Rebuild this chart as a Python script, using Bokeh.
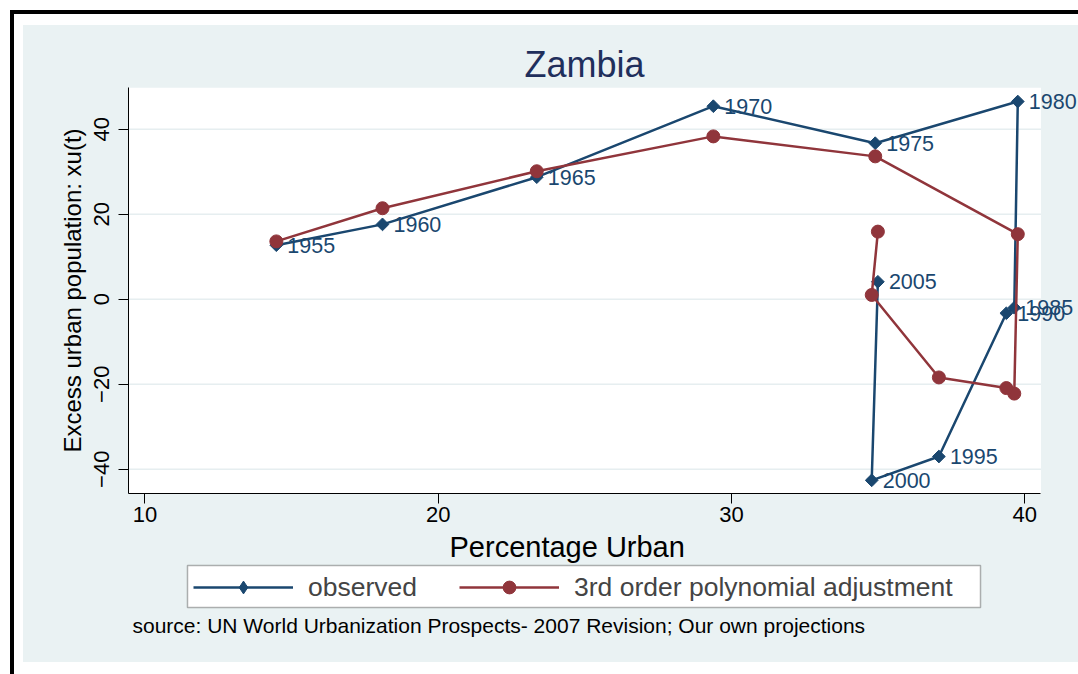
from bokeh.plotting import figure
from bokeh.layouts import column, row
from bokeh.models import (ColumnDataSource, LabelSet, Legend, LegendItem, Label,
                          FixedTicker, Div, BoxAnnotation)
from bokeh.core.properties import value
from bokeh.embed import file_html
from bokeh.resources import INLINE
import math

# ---- data ----
years = ["1955", "1960", "1965", "1970", "1975", "1980", "1985", "1990", "1995", "2000", "2005"]
pct_urban = [14.48, 18.1, 23.36, 29.38, 34.9, 39.76, 39.64, 39.37, 37.07, 34.78, 34.99]
observed = [12.7, 17.6, 28.7, 45.4, 36.7, 46.5, -2.0, -3.3, -37.0, -42.6, 4.1]
fitted = [13.6, 21.4, 30.1, 38.3, 33.6, 15.3, -22.2, -20.9, -18.4, 1.0, 15.9]
x_ticks = [10, 20, 30, 40]
y_ticks = [-40, -20, 0, 20, 40]

title_text = "Zambia"
x_title = "Percentage Urban"
y_title = "Excess urban population: xu(t)"
legend_labels = ["observed", "3rd order polynomial adjustment"]
note_text = "source: UN World Urbanization Prospects- 2007 Revision; Our own projections"

# plot-region extent (data units) and extra room on the right for the year labels
x_lo, x_hi, x_view = 9.44, 40.55, 41.83
y_lo, y_hi = -45.7, 49.8

NAVY = "#1a476f"
MAROON = "#90353b"
BG = "#eaf2f3"
GRID = "#e6eef0"
FONT = "Liberation Sans"

src = ColumnDataSource(dict(x=pct_urban, obs=observed, fit=fitted, year=years))

# ---------------- main plot ----------------
p = figure(width=1055, height=506, x_range=(x_lo, x_view), y_range=(y_lo, y_hi),
           output_backend="svg", toolbar_location=None,
           min_border_left=105, min_border_right=0, min_border_top=62, min_border_bottom=38)
p.border_fill_color = BG
p.background_fill_color = BG
p.outline_line_color = None

p.title.text = title_text
p.title.align = "left"
p.title.offset = 396
p.title.text_font = FONT
p.title.text_font_size = "36px"
p.title.text_font_style = "normal"
p.title.text_color = "#1f2f5c"
p.title.standoff = 6

for ax in (p.xaxis[0], p.yaxis[0]):
    ax.axis_line_color = "black"
    ax.axis_line_width = 1
    ax.major_tick_line_color = "black"
    ax.major_tick_out = 10
    ax.major_tick_in = 0
    ax.minor_tick_line_color = None
    ax.major_label_text_font = FONT
    ax.major_label_text_font_size = "22px"
    ax.major_label_text_color = "black"
    ax.axis_label_text_font = FONT
    ax.axis_label_text_font_style = "normal"
    ax.axis_label_text_color = "black"

p.xaxis[0].ticker = FixedTicker(ticks=x_ticks)
p.yaxis[0].ticker = FixedTicker(ticks=y_ticks)
p.xaxis[0].bounds = (x_lo, x_hi)
p.yaxis[0].axis_label = y_title
p.yaxis[0].axis_label_text_font_size = "24px"
p.xaxis[0].major_label_standoff = 3
p.yaxis[0].major_label_orientation = "vertical"
p.yaxis[0].major_label_standoff = 9
p.yaxis[0].axis_label_standoff = 6

p.xgrid.visible = False
p.ygrid.visible = False

# white plot region and horizontal grid lines
p.quad(left=[x_lo], right=[x_hi], bottom=[y_lo], top=[y_hi],
       fill_color="white", line_color=None)
p.segment(x0=[x_lo] * len(y_ticks), x1=[x_hi] * len(y_ticks), y0=y_ticks, y1=y_ticks,
          line_color=GRID, line_width=1.5)

# observed series
p.line("x", "obs", source=src, line_color=NAVY, line_width=2.5)
p.scatter("x", "obs", source=src, marker="square", size=9, angle=math.pi / 4,
          fill_color=NAVY, line_color=NAVY)
labels = LabelSet(x="x", y="obs", text="year", source=src, x_offset=11,
                  text_baseline="middle", text_align="left",
                  text_font=value(FONT), text_font_size="21.5px", text_color=NAVY)
p.add_layout(labels)

# fitted series
p.line("x", "fit", source=src, line_color=MAROON, line_width=2.5)
p.scatter("x", "fit", source=src, marker="circle", size=13,
          fill_color=MAROON, line_color=MAROON)

# ---------------- x title + legend + note panel ----------------
q = figure(width=1055, height=131, x_range=(0, 1), y_range=(0, 1),
           x_axis_type=None, y_axis_type=None,
           output_backend="svg", toolbar_location=None, min_border=0)
q.border_fill_color = BG
q.background_fill_color = BG
q.outline_line_color = None
q.grid.visible = False

xt = Label(x=321, y=116, x_units="screen", y_units="screen", text=x_title,
           text_font=FONT, text_font_size="29px", text_color="black",
           text_baseline="alphabetic")
q.add_layout(xt)

ql1 = q.line("x", "obs", source=src, line_color=NAVY, line_width=2.5, visible=False)
qm1 = q.scatter("x", "obs", source=src, marker="diamond", size=9,
                fill_color=NAVY, line_color=NAVY, visible=False)
ql2 = q.line("x", "fit", source=src, line_color=MAROON, line_width=2.5, visible=False)
qm2 = q.scatter("x", "fit", source=src, marker="circle", size=13,
                fill_color=MAROON, line_color=MAROON, visible=False)

# legend frame (Stata's legend box is wider than its contents)
q.add_layout(BoxAnnotation(left=59, right=852, bottom=55, top=97,
                           left_units="screen", right_units="screen",
                           bottom_units="screen", top_units="screen",
                           fill_color="white", fill_alpha=1.0,
                           line_color="black", line_width=1.5, level="underlay"))

legend = Legend(items=[LegendItem(label=legend_labels[0], renderers=[ql1, qm1]),
                       LegendItem(label=legend_labels[1], renderers=[ql2, qm2])],
                orientation="horizontal", location=(65, 59),
                glyph_width=100, glyph_height=32, label_height=32,
                label_standoff=15, spacing=42, padding=5, margin=0,
                label_text_font=FONT, label_text_font_size="26.5px",
                border_line_color=None, background_fill_alpha=0.0,
                inactive_fill_alpha=0.0)
q.add_layout(legend, "center")

note = Label(x=4, y=37, x_units="screen", y_units="screen", text=note_text,
             text_font=FONT, text_font_size="21px", text_color="black",
             text_baseline="alphabetic")
q.add_layout(note)

# ---------------- outer frame (black rules) ----------------
top_bar = Div(text="", width=1068, height=4, margin=(10, 0, 0, 10),
              styles={"background-color": "black"})
left_bar = Div(text="", width=4, height=660, margin=(0, 0, 0, 10),
               styles={"background-color": "black"})
charts = column(p, q, margin=(11, 0, 0, 9), spacing=0,
                styles={"background-color": BG})
root = column(top_bar, row(left_bar, charts, spacing=0), spacing=0)

open("out.html", "w").write(file_html(root, INLINE))
